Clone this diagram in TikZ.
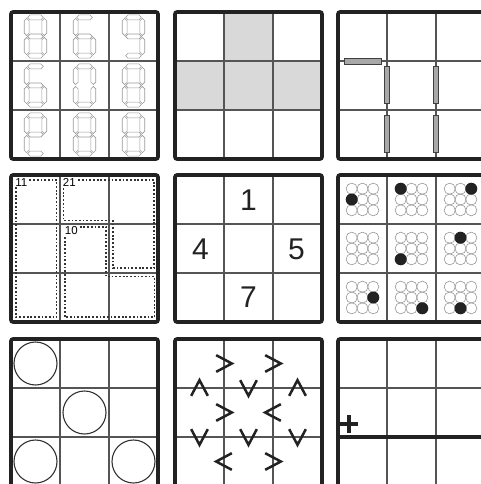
\documentclass[tikz,border=0pt]{standalone}
\usepackage{fontspec}
\setmainfont{Liberation Sans}
\usepackage{tikz}
\usepackage{xcolor}

\definecolor{gridgray}{HTML}{555555}
\definecolor{framegray}{HTML}{222222}
\definecolor{cellgray}{HTML}{D9D9D9}
\definecolor{barfill}{HTML}{A8A8A8}
\definecolor{segline}{HTML}{9A9A9A}

\tikzset{
    panel/.style={shift={#1}, x=49pt, y=-49pt},
    gridline/.style={draw=gridgray, line width=1.2pt},
    frame/.style={draw=framegray, line width=3.6pt, rounded corners=2pt},
    segment/.style={draw=segline, line width=0.6pt},
    bar/.style={fill=barfill, draw=black!75, line width=0.8pt},
    cage/.style={draw=black!80, line width=1.4pt, dash pattern=on 1.8pt off 1.9pt},
    cagelabel/.style={fill=white, inner sep=0.8pt, anchor=north west, font=\fontsize{11.5}{11.5}\selectfont},
    given/.style={text=framegray, font=\fontsize{30}{30}\selectfont},
    ring/.style={draw=black!40, line width=0.6pt},
    dot/.style={fill=framegray},
    bigring/.style={draw=black!80, line width=1.1pt},
    ineq/.style={draw=framegray, line width=2.5pt},
}

% 3x3 grid with its outer frame
\newcommand{\panelgrid}{%
    \foreach \i in {1,2} {
        \draw[gridline] (\i,0) -- (\i,3);
        \draw[gridline] (0,\i) -- (3,\i);
    }
    \draw[frame] (0,0) rectangle (3,3);
}

% seven-segment pieces
\newcommand{\hseg}[3]{\draw[segment] (#1,#3) -- ({#1+0.05},{#3-0.05}) -- ({#2-0.05},{#3-0.05}) -- (#2,#3) -- ({#2-0.05},{#3+0.05}) -- ({#1+0.05},{#3+0.05}) -- cycle;}
\newcommand{\vseg}[3]{\draw[segment] (#1,#2) -- ({#1+0.05},{#2+0.05}) -- ({#1+0.05},{#3-0.05}) -- (#1,#3) -- ({#1-0.05},{#3-0.05}) -- ({#1-0.05},{#2+0.05}) -- cycle;}
\newcommand{\sega}{\hseg{-0.16}{0.16}{-0.39}}
\newcommand{\segb}{\vseg{0.18}{-0.37}{-0.02}}
\newcommand{\segc}{\vseg{0.18}{0.02}{0.37}}
\newcommand{\segd}{\hseg{-0.16}{0.16}{0.39}}
\newcommand{\sege}{\vseg{-0.18}{0.02}{0.37}}
\newcommand{\segf}{\vseg{-0.18}{-0.37}{-0.02}}
\newcommand{\segg}{\hseg{-0.16}{0.16}{0}}

\begin{document}
\begin{tikzpicture}[x=1pt, y=-1pt]
    \useasboundingbox (0,0) rectangle (481,484);
    \clip (0,0) rectangle (481,484);
    \fill[white] (0,0) rectangle (481,484);

    % Panel 1: segment digits
    \begin{scope}[panel={(11,12)}]
        \panelgrid
        \foreach \c/\r/\segs in {0/0/\sega\segb\segc\segd\sege\segf\segg,
                                 1/0/\sega\segc\segd\sege\segf\segg,
                                 2/0/\sega\segb\segc\segd\segf\segg,
                                 0/1/\sega\segc\segd\sege\segf\segg,
                                 1/1/\sega\segb\segc\segd\sege\segf,
                                 2/1/\sega\segb\segc\segd\sege\segf\segg,
                                 0/2/\sega\segb\segd\sege\segf\segg,
                                 1/2/\sega\segb\segc\segd\sege\segf\segg,
                                 2/2/\sega\segb\segc\segd\sege\segf\segg} {
            \begin{scope}[shift={(\c+0.5,\r+0.5)}]
                \segs
            \end{scope}
        }
    \end{scope}

    % Panel 2: shaded cells
    \begin{scope}[panel={(175,12)}]
        \fill[cellgray] (1,0) rectangle (2,1);
        \fill[cellgray] (0,1) rectangle (3,2);
        \panelgrid
    \end{scope}

    % Panel 3: bars on edges
    \begin{scope}[panel={(338,12)}]
        \panelgrid
        \draw[bar] (0.14,0.95) rectangle (0.88,1.06);
        \foreach \x in {1,2} {
            \draw[bar] (\x-0.055,1.12) rectangle (\x+0.055,1.86);
            \draw[bar] (\x-0.055,2.12) rectangle (\x+0.055,2.86);
        }
    \end{scope}

    % Panel 4: cages
    \begin{scope}[panel={(11,175)}]
        \panelgrid
        \draw[cage] (0.1,0.1) rectangle (0.93,2.9);
        \draw[cage] (1.07,0.1) -- (2.92,0.1) -- (2.92,1.9) -- (2.08,1.9) -- (2.08,0.93) -- (1.07,0.93) -- cycle;
        \draw[cage] (1.1,1.06) -- (1.94,1.06) -- (1.94,2.07) -- (2.93,2.07) -- (2.93,2.9) -- (1.1,2.9) -- cycle;
        \node[cagelabel] (sum11) at (0.07,0.05) {11};
        \node[cagelabel] (sum21) at (1.04,0.05) {21};
        \node[cagelabel] (sum10) at (1.08,1.02) {10};
    \end{scope}

    % Panel 5: givens
    \begin{scope}[panel={(175,175)}]
        \panelgrid
        \node[given] (g1) at (1.5,0.52) {1};
        \node[given] (g4) at (0.52,1.52) {4};
        \node[given] (g5) at (2.48,1.52) {5};
        \node[given] (g7) at (1.5,2.5) {7};
    \end{scope}

    % Panel 6: small rings with one dot
    \begin{scope}[panel={(338,175)}]
        \panelgrid
        \foreach \c in {0,1,2}
            \foreach \r in {0,1,2}
                \foreach \i in {-1,0,1}
                    \foreach \j in {-1,0,1}
                        \draw[ring] ({\c+0.5+0.22*\i},{\r+0.5+0.22*\j}) circle (5.6pt);
        \foreach \c/\r/\i/\j in {0/0/-1/0, 1/0/-1/-1, 2/0/1/-1, 1/1/-1/1,
                                 2/1/0/-1, 0/2/1/0, 1/2/1/1, 2/2/0/1}
            \fill[dot] ({\c+0.5+0.22*\i},{\r+0.5+0.22*\j}) circle (6pt);
    \end{scope}

    % Panel 7: circles
    \begin{scope}[panel={(11,339)}]
        \panelgrid
        \foreach \x/\y in {0.5/0.5, 1.5/1.5, 0.5/2.5, 2.5/2.5}
            \draw[bigring] (\x,\y) circle (21.5pt);
    \end{scope}

    % Panel 8: inequalities
    \begin{scope}[panel={(175,339)}]
        \panelgrid
        \foreach \x/\y/\r in {1/0.5/0, 2/0.5/0,
                              0.5/1/90, 1.5/1/-90, 2.5/1/90,
                              1/1.5/0, 2/1.5/180,
                              0.5/2/-90, 1.5/2/-90, 2.5/2/-90,
                              1/2.5/180, 2/2.5/0}
            \draw[ineq, shift={(\x,\y)}, rotate=\r] (-0.16,-0.17) -- (0.16,0) -- (-0.16,0.17);
    \end{scope}

    % Panel 9: thick edge and cross
    \begin{scope}[panel={(338,339)}]
        \panelgrid
        \draw[frame, rounded corners=0pt] (0,2) -- (3,2);
        \draw[ineq, line width=3.6pt] (0.05,1.74) -- (0.41,1.74);
        \draw[ineq, line width=3.6pt] (0.23,1.56) -- (0.23,1.92);
    \end{scope}
\end{tikzpicture}
\end{document}
